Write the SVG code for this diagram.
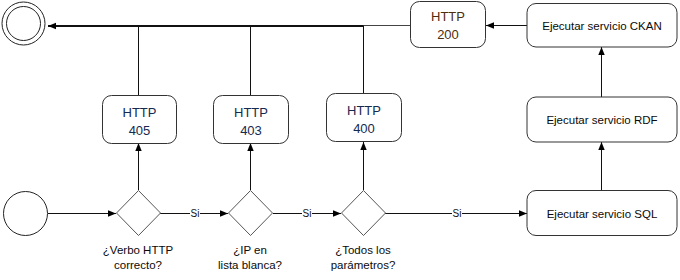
<svg xmlns="http://www.w3.org/2000/svg" width="680" height="280" viewBox="0 0 680 280">
  <style>
    .box { fill: #fff; stroke: #333; stroke-width: 1; }
    .dia { fill: #fff; stroke: #555; stroke-width: 1; }
    .ev { fill: #fff; stroke: #222; stroke-width: 1; }
    .ln { fill: none; stroke: #111; stroke-width: 1; }
    .lbl { font-family: "Liberation Sans", Arial, sans-serif; font-size: 11.5px; fill: #0a0a0a; text-anchor: middle; }
    .code { font-family: "Liberation Sans", Arial, sans-serif; font-size: 13px; fill: #142a50; text-anchor: middle; }
    .ok { fill: #4e2c0e; }
    .si { font-family: "Liberation Sans", Arial, sans-serif; font-size: 10px; fill: #111; text-anchor: middle; }
  </style>
  <defs>
    <marker id="arr" viewBox="0 0 8 8" refX="8" refY="4" markerWidth="8" markerHeight="8" markerUnits="userSpaceOnUse" orient="auto">
      <path d="M0,0.8 L8,4 L0,7.2 Z" fill="#000"/>
    </marker>
  </defs>

  <!-- connectors -->
  <g id="connectors">
    <path class="ln" d="M48,213.5 H116" marker-end="url(#arr)"/>
    <path class="ln" d="M160,213.5 H228" marker-end="url(#arr)"/>
    <path class="ln" d="M273,213.5 H341" marker-end="url(#arr)"/>
    <path class="ln" d="M385,213.5 H527" marker-end="url(#arr)"/>
    <path class="ln" d="M138.5,190 V143" marker-end="url(#arr)"/>
    <path class="ln" d="M250.5,190 V143" marker-end="url(#arr)"/>
    <path class="ln" d="M363.5,190 V142" marker-end="url(#arr)"/>
    <path class="ln" d="M601.5,190 V142" marker-end="url(#arr)"/>
    <path class="ln" d="M601.5,97 V47" marker-end="url(#arr)"/>
    <path class="ln" d="M527,25.5 H486" marker-end="url(#arr)"/>
    <path class="ln" d="M138.5,95 V26"/>
    <path class="ln" d="M250.5,95 V26"/>
    <path class="ln" d="M363.5,93 V26"/>
    <path class="ln" style="stroke:#444" d="M411,25.5 H363"/>
    <path class="ln" style="stroke-width:2" d="M363.5,26 H48" marker-end="url(#arr)"/>
    <!-- "Si" labels on the yes branches -->
    <rect x="190" y="207" width="10" height="12" fill="#fff"/>
    <text class="si" x="195" y="217">Si</text>
    <rect x="302" y="207" width="10" height="12" fill="#fff"/>
    <text class="si" x="307" y="217">Si</text>
    <rect x="452" y="207" width="10" height="12" fill="#fff"/>
    <text class="si" x="457" y="217">Si</text>
  </g>

  <g id="start">
    <circle class="ev" cx="25.5" cy="213.5" r="22"/>
  </g>

  <g id="end">
    <circle class="ev" cx="23.5" cy="23.5" r="21.5"/>
    <circle class="ev" cx="23.5" cy="23.5" r="17"/>
  </g>

  <g id="check-verb">
    <path class="dia" d="M138.5,190.5 L160.5,213 L138.5,235.5 L116.5,213 Z"/>
    <text class="lbl" x="138" y="254">¿Verbo HTTP</text>
    <text class="lbl" x="138" y="269">correcto?</text>
  </g>

  <g id="check-ip">
    <path class="dia" d="M250.5,190.5 L272.5,213 L250.5,235.5 L228.5,213 Z"/>
    <text class="lbl" x="250" y="254">¿IP en</text>
    <text class="lbl" x="250" y="269">lista blanca?</text>
  </g>

  <g id="check-params">
    <path class="dia" d="M363.5,190.5 L385.5,213 L363.5,235.5 L341.5,213 Z"/>
    <text class="lbl" x="363" y="254">¿Todos los</text>
    <text class="lbl" x="363" y="269">parámetros?</text>
  </g>

  <g id="http-405">
    <rect class="box" x="102.5" y="95.5" width="74" height="48" rx="9"/>
    <text class="code" x="139.5" y="117">HTTP</text>
    <text class="code" x="139.5" y="135">405</text>
  </g>

  <g id="http-403">
    <rect class="box" x="213.5" y="95.5" width="75" height="48" rx="9"/>
    <text class="code" x="251" y="117">HTTP</text>
    <text class="code" x="251" y="135">403</text>
  </g>

  <g id="http-400">
    <rect class="box" x="326.5" y="93.5" width="75" height="48" rx="9"/>
    <text class="code" x="364" y="115">HTTP</text>
    <text class="code" x="364" y="133">400</text>
  </g>

  <g id="http-200">
    <rect class="box" x="410.5" y="1.5" width="75" height="46" rx="9"/>
    <text class="code ok" x="448" y="21">HTTP</text>
    <text class="code ok" x="448" y="39">200</text>
  </g>

  <g id="svc-sql">
    <rect class="box" x="527" y="190.5" width="150" height="45" rx="9"/>
    <text class="lbl" x="602" y="217.5">Ejecutar servicio SQL</text>
  </g>

  <g id="svc-rdf">
    <rect class="box" x="527" y="97" width="150" height="45" rx="9"/>
    <text class="lbl" x="602" y="124">Ejecutar servicio RDF</text>
  </g>

  <g id="svc-ckan">
    <rect class="box" x="527" y="3.5" width="150" height="43.5" rx="9"/>
    <text class="lbl" x="602" y="29.5">Ejecutar servicio CKAN</text>
  </g>
</svg>
